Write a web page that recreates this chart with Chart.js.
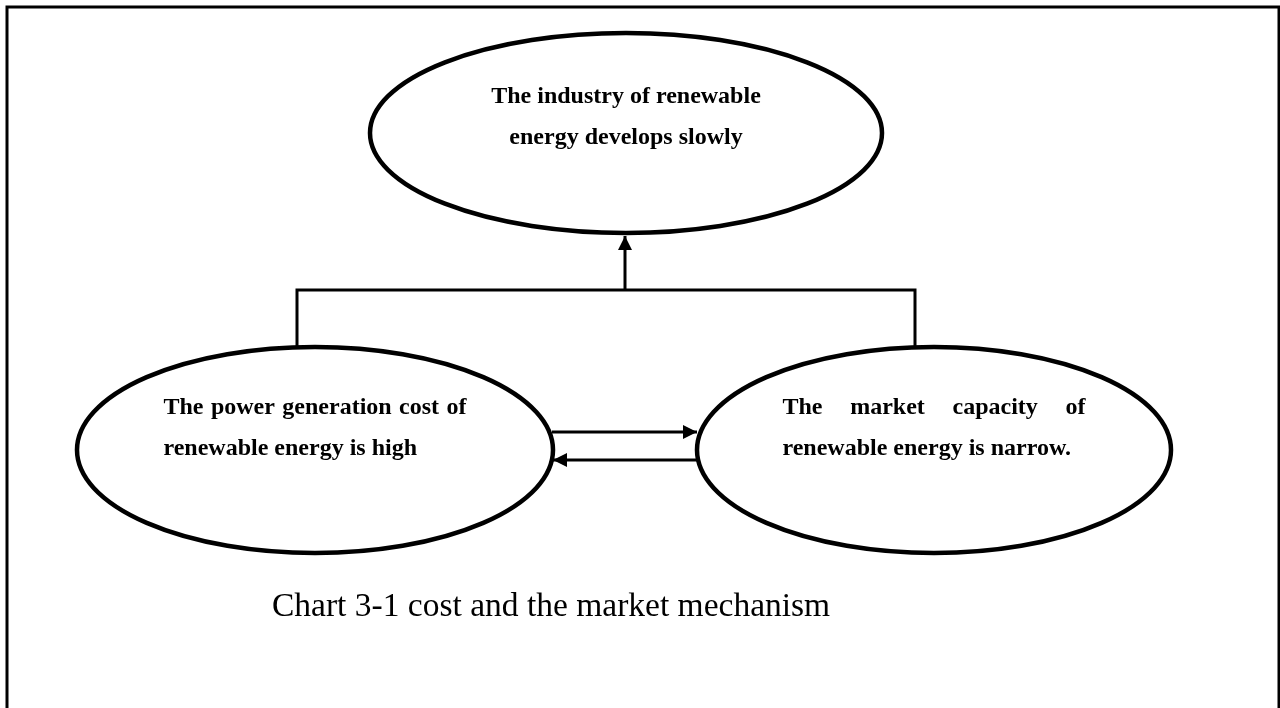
<!DOCTYPE html>
<html>
<head>
<meta charset="utf-8">
<script src="https://cdn.jsdelivr.net/npm/chart.js@4"></script>
<style>
  body { margin: 0; background: #fff; }
  #wrap { width: 1280px; height: 708px; }
</style>
</head>
<body>
<div id="wrap"><canvas id="chart" width="1280" height="708"></canvas></div>
<script>
// nodes of the diagram (centre and radii in chart units)
const nodeLabels = [
    ['The industry of renewable', 'energy develops slowly'],
    ['The power generation cost of', 'renewable energy is high'],
    ['The market capacity of', 'renewable energy is narrow.']
];
const nodeX = [626, 315, 934];
const nodeY = [133, 450, 450];
const nodeRx = [256, 238, 237];
const nodeRy = [100, 103, 103];

// connectors, as lists of [x, y] points; the last point of an arrow is its tip
const edgePaths = [
    [[297, 347], [297, 290], [915, 290], [915, 347]],
    [[625, 290], [625, 236]],
    [[552, 432], [697, 432]],
    [[697, 460], [553, 460]]
];
const edgeArrow = [false, true, true, true];

const caption = 'Chart 3-1 cost and the market mechanism';

// text layout
const nodeFont = 'bold 24px "Liberation Serif", "Times New Roman", serif';
const captionFont = '33.5px "Liberation Serif", "Times New Roman", serif';
const textAlign = ['center', 'justify', 'justify'];
const textFirstBaseline = [-30, -36, -36];
const lineGap = 41;
const textBoxWidth = 303;

function drawJustified(ctx, text, x, y, width) {
    const words = text.split(' ');
    const total = words.reduce((s, w) => s + ctx.measureText(w).width, 0);
    const gap = (width - total) / (words.length - 1);
    let cx = x;
    words.forEach(w => {
        ctx.fillText(w, cx, y);
        cx += ctx.measureText(w).width + gap;
    });
}

const diagram = {
    id: 'diagram',
    afterDatasetsDraw(chart) {
        const ctx = chart.ctx;
        const xs = chart.scales.x, ys = chart.scales.y;
        const px = v => xs.getPixelForValue(v);
        const py = v => ys.getPixelForValue(v);
        ctx.save();
        ctx.strokeStyle = '#000';
        ctx.fillStyle = '#000';

        // outer frame
        ctx.lineWidth = 3;
        ctx.beginPath();
        ctx.moveTo(7, 720);
        ctx.lineTo(7, 7);
        ctx.lineTo(1279, 7);
        ctx.lineTo(1279, 720);
        ctx.stroke();

        // ellipses
        ctx.lineWidth = 4.5;
        nodeX.forEach((x, i) => {
            const cx = px(x), cy = py(nodeY[i]);
            const rx = Math.abs(px(x + nodeRx[i]) - cx);
            const ry = Math.abs(py(nodeY[i] + nodeRy[i]) - cy);
            ctx.beginPath();
            ctx.ellipse(cx, cy, rx, ry, 0, 0, Math.PI * 2);
            ctx.stroke();
        });

        // arrow heads
        edgePaths.forEach((path, i) => {
            if (!edgeArrow[i]) return;
            const a = path[path.length - 2], b = path[path.length - 1];
            const x1 = px(a[0]), y1 = py(a[1]), x2 = px(b[0]), y2 = py(b[1]);
            const ang = Math.atan2(y2 - y1, x2 - x1);
            const len = 14, half = 7;
            ctx.beginPath();
            ctx.moveTo(x2, y2);
            ctx.lineTo(x2 - len * Math.cos(ang) + half * Math.sin(ang), y2 - len * Math.sin(ang) - half * Math.cos(ang));
            ctx.lineTo(x2 - len * Math.cos(ang) - half * Math.sin(ang), y2 - len * Math.sin(ang) + half * Math.cos(ang));
            ctx.closePath();
            ctx.fill();
        });

        // node texts
        ctx.font = nodeFont;
        ctx.textBaseline = 'alphabetic';
        nodeLabels.forEach((lines, i) => {
            const cx = px(nodeX[i]), cy = py(nodeY[i]);
            lines.forEach((line, j) => {
                const y = cy + textFirstBaseline[i] + j * lineGap;
                if (textAlign[i] === 'center') {
                    ctx.textAlign = 'center';
                    ctx.fillText(line, cx, y);
                } else {
                    ctx.textAlign = 'left';
                    const left = cx - textBoxWidth / 2;
                    if (j < lines.length - 1) drawJustified(ctx, line, left, y, textBoxWidth);
                    else ctx.fillText(line, left, y);
                }
            });
        });

        // caption
        ctx.font = captionFont;
        ctx.textAlign = 'left';
        ctx.fillText(caption, 272, 616);
        ctx.restore();
    }
};

new Chart(document.getElementById('chart'), {
    type: 'scatter',
    data: {
        datasets: edgePaths.map(path => ({
            data: path.map(p => ({ x: p[0], y: p[1] })),
            showLine: true,
            borderColor: '#000',
            borderWidth: 3,
            pointRadius: 0,
            tension: 0,
            fill: false
        }))
    },
    options: {
        responsive: false,
        animation: false,
        devicePixelRatio: 1,
        layout: { padding: 0 },
        plugins: { legend: { display: false }, tooltip: { enabled: false } },
        scales: {
            x: { type: 'linear', min: 0, max: 1280, display: false },
            y: { type: 'linear', min: 0, max: 708, reverse: true, display: false }
        }
    },
    plugins: [diagram]
});
</script>
</body>
</html>
